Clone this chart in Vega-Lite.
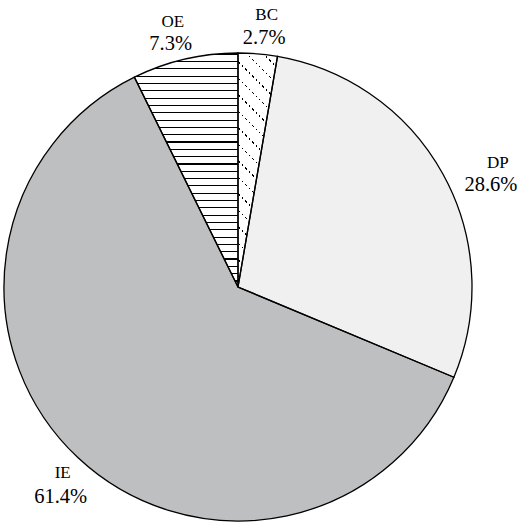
{
  "$schema": "https://vega.github.io/schema/vega-lite/v6.json",
  "autosize": "none",
  "width": 476,
  "height": 468,
  "padding": {"left": 0, "top": 53, "right": 47, "bottom": 10},
  "background": "#ffffff",
  "config": {"view": {"stroke": null}},
  "data": {"values": [
    {"name": "BC", "value": 0.027},
    {"name": "DP", "value": 0.286},
    {"name": "IE", "value": 0.614},
    {"name": "OE", "value": 0.073}
  ]},
  "encoding": {
    "theta": {"field": "value", "type": "quantitative", "stack": true},
    "order": {"field": "name", "type": "ordinal", "sort": "ascending"},
    "detail": {"field": "name", "type": "nominal"}
  },
  "layer": [
    {
      "mark": {"type": "arc", "radius": 234, "stroke": null},
      "encoding": {
        "fill": {
          "condition": [
            {"test": "datum.name === 'BC'", "value": {"gradient": "linear", "x1": 1, "y1": 0, "x2": 0.8082, "y2": 1.136, "stops": [
              {"offset": 0, "color": "#ffffff"},
              {"offset": 0.0520, "color": "#ffffff"}, {"offset": 0.0520, "color": "#000000"}, {"offset": 0.0575, "color": "#000000"}, {"offset": 0.0575, "color": "#ffffff"},
              {"offset": 0.1123, "color": "#ffffff"}, {"offset": 0.1123, "color": "#000000"}, {"offset": 0.1178, "color": "#000000"}, {"offset": 0.1178, "color": "#ffffff"},
              {"offset": 0.1726, "color": "#ffffff"}, {"offset": 0.1726, "color": "#000000"}, {"offset": 0.1781, "color": "#000000"}, {"offset": 0.1781, "color": "#ffffff"},
              {"offset": 0.2329, "color": "#ffffff"}, {"offset": 0.2329, "color": "#000000"}, {"offset": 0.2384, "color": "#000000"}, {"offset": 0.2384, "color": "#ffffff"},
              {"offset": 0.2932, "color": "#ffffff"}, {"offset": 0.2932, "color": "#000000"}, {"offset": 0.2987, "color": "#000000"}, {"offset": 0.2987, "color": "#ffffff"},
              {"offset": 0.3535, "color": "#ffffff"}, {"offset": 0.3535, "color": "#000000"}, {"offset": 0.3590, "color": "#000000"}, {"offset": 0.3590, "color": "#ffffff"},
              {"offset": 0.4138, "color": "#ffffff"}, {"offset": 0.4138, "color": "#000000"}, {"offset": 0.4193, "color": "#000000"}, {"offset": 0.4193, "color": "#ffffff"},
              {"offset": 0.4741, "color": "#ffffff"}, {"offset": 0.4741, "color": "#000000"}, {"offset": 0.4796, "color": "#000000"}, {"offset": 0.4796, "color": "#ffffff"},
              {"offset": 0.5344, "color": "#ffffff"}, {"offset": 0.5344, "color": "#000000"}, {"offset": 0.5399, "color": "#000000"}, {"offset": 0.5399, "color": "#ffffff"},
              {"offset": 0.5947, "color": "#ffffff"}, {"offset": 0.5947, "color": "#000000"}, {"offset": 0.6002, "color": "#000000"}, {"offset": 0.6002, "color": "#ffffff"},
              {"offset": 0.6550, "color": "#ffffff"}, {"offset": 0.6550, "color": "#000000"}, {"offset": 0.6605, "color": "#000000"}, {"offset": 0.6605, "color": "#ffffff"},
              {"offset": 0.7153, "color": "#ffffff"}, {"offset": 0.7153, "color": "#000000"}, {"offset": 0.7208, "color": "#000000"}, {"offset": 0.7208, "color": "#ffffff"},
              {"offset": 0.7756, "color": "#ffffff"}, {"offset": 0.7756, "color": "#000000"}, {"offset": 0.7811, "color": "#000000"}, {"offset": 0.7811, "color": "#ffffff"},
              {"offset": 0.8359, "color": "#ffffff"}, {"offset": 0.8359, "color": "#000000"}, {"offset": 0.8414, "color": "#000000"}, {"offset": 0.8414, "color": "#ffffff"},
              {"offset": 0.8962, "color": "#ffffff"}, {"offset": 0.8962, "color": "#000000"}, {"offset": 0.9017, "color": "#000000"}, {"offset": 0.9017, "color": "#ffffff"},
              {"offset": 0.9565, "color": "#ffffff"}, {"offset": 0.9565, "color": "#000000"}, {"offset": 0.9620, "color": "#000000"}, {"offset": 0.9620, "color": "#ffffff"},
              {"offset": 1, "color": "#ffffff"}
            ]}},
            {"test": "datum.name === 'OE'", "value": {"gradient": "linear", "x1": 0, "y1": 0, "x2": 0, "y2": 1, "stops": [
              {"offset": 0, "color": "#ffffff"},
              {"offset": 0.0031, "color": "#ffffff"}, {"offset": 0.0031, "color": "#000000"}, {"offset": 0.0079, "color": "#000000"}, {"offset": 0.0079, "color": "#ffffff"},
              {"offset": 0.0344, "color": "#ffffff"}, {"offset": 0.0344, "color": "#000000"}, {"offset": 0.0392, "color": "#000000"}, {"offset": 0.0392, "color": "#ffffff"},
              {"offset": 0.0656, "color": "#ffffff"}, {"offset": 0.0656, "color": "#000000"}, {"offset": 0.0704, "color": "#000000"}, {"offset": 0.0704, "color": "#ffffff"},
              {"offset": 0.0969, "color": "#ffffff"}, {"offset": 0.0969, "color": "#000000"}, {"offset": 0.1017, "color": "#000000"}, {"offset": 0.1017, "color": "#ffffff"},
              {"offset": 0.1281, "color": "#ffffff"}, {"offset": 0.1281, "color": "#000000"}, {"offset": 0.1329, "color": "#000000"}, {"offset": 0.1329, "color": "#ffffff"},
              {"offset": 0.1594, "color": "#ffffff"}, {"offset": 0.1594, "color": "#000000"}, {"offset": 0.1642, "color": "#000000"}, {"offset": 0.1642, "color": "#ffffff"},
              {"offset": 0.1906, "color": "#ffffff"}, {"offset": 0.1906, "color": "#000000"}, {"offset": 0.1954, "color": "#000000"}, {"offset": 0.1954, "color": "#ffffff"},
              {"offset": 0.2219, "color": "#ffffff"}, {"offset": 0.2219, "color": "#000000"}, {"offset": 0.2267, "color": "#000000"}, {"offset": 0.2267, "color": "#ffffff"},
              {"offset": 0.2531, "color": "#ffffff"}, {"offset": 0.2531, "color": "#000000"}, {"offset": 0.2579, "color": "#000000"}, {"offset": 0.2579, "color": "#ffffff"},
              {"offset": 0.2844, "color": "#ffffff"}, {"offset": 0.2844, "color": "#000000"}, {"offset": 0.2892, "color": "#000000"}, {"offset": 0.2892, "color": "#ffffff"},
              {"offset": 0.3156, "color": "#ffffff"}, {"offset": 0.3156, "color": "#000000"}, {"offset": 0.3204, "color": "#000000"}, {"offset": 0.3204, "color": "#ffffff"},
              {"offset": 0.3469, "color": "#ffffff"}, {"offset": 0.3469, "color": "#000000"}, {"offset": 0.3517, "color": "#000000"}, {"offset": 0.3517, "color": "#ffffff"},
              {"offset": 0.3781, "color": "#ffffff"}, {"offset": 0.3781, "color": "#000000"}, {"offset": 0.3829, "color": "#000000"}, {"offset": 0.3829, "color": "#ffffff"},
              {"offset": 0.4094, "color": "#ffffff"}, {"offset": 0.4094, "color": "#000000"}, {"offset": 0.4142, "color": "#000000"}, {"offset": 0.4142, "color": "#ffffff"},
              {"offset": 0.4406, "color": "#ffffff"}, {"offset": 0.4406, "color": "#000000"}, {"offset": 0.4454, "color": "#000000"}, {"offset": 0.4454, "color": "#ffffff"},
              {"offset": 0.4719, "color": "#ffffff"}, {"offset": 0.4719, "color": "#000000"}, {"offset": 0.4767, "color": "#000000"}, {"offset": 0.4767, "color": "#ffffff"},
              {"offset": 0.5031, "color": "#ffffff"}, {"offset": 0.5031, "color": "#000000"}, {"offset": 0.5079, "color": "#000000"}, {"offset": 0.5079, "color": "#ffffff"},
              {"offset": 0.5344, "color": "#ffffff"}, {"offset": 0.5344, "color": "#000000"}, {"offset": 0.5392, "color": "#000000"}, {"offset": 0.5392, "color": "#ffffff"},
              {"offset": 0.5656, "color": "#ffffff"}, {"offset": 0.5656, "color": "#000000"}, {"offset": 0.5704, "color": "#000000"}, {"offset": 0.5704, "color": "#ffffff"},
              {"offset": 0.5969, "color": "#ffffff"}, {"offset": 0.5969, "color": "#000000"}, {"offset": 0.6017, "color": "#000000"}, {"offset": 0.6017, "color": "#ffffff"},
              {"offset": 0.6281, "color": "#ffffff"}, {"offset": 0.6281, "color": "#000000"}, {"offset": 0.6329, "color": "#000000"}, {"offset": 0.6329, "color": "#ffffff"},
              {"offset": 0.6594, "color": "#ffffff"}, {"offset": 0.6594, "color": "#000000"}, {"offset": 0.6642, "color": "#000000"}, {"offset": 0.6642, "color": "#ffffff"},
              {"offset": 0.6906, "color": "#ffffff"}, {"offset": 0.6906, "color": "#000000"}, {"offset": 0.6954, "color": "#000000"}, {"offset": 0.6954, "color": "#ffffff"},
              {"offset": 0.7219, "color": "#ffffff"}, {"offset": 0.7219, "color": "#000000"}, {"offset": 0.7267, "color": "#000000"}, {"offset": 0.7267, "color": "#ffffff"},
              {"offset": 0.7531, "color": "#ffffff"}, {"offset": 0.7531, "color": "#000000"}, {"offset": 0.7579, "color": "#000000"}, {"offset": 0.7579, "color": "#ffffff"},
              {"offset": 0.7844, "color": "#ffffff"}, {"offset": 0.7844, "color": "#000000"}, {"offset": 0.7892, "color": "#000000"}, {"offset": 0.7892, "color": "#ffffff"},
              {"offset": 0.8156, "color": "#ffffff"}, {"offset": 0.8156, "color": "#000000"}, {"offset": 0.8204, "color": "#000000"}, {"offset": 0.8204, "color": "#ffffff"},
              {"offset": 0.8469, "color": "#ffffff"}, {"offset": 0.8469, "color": "#000000"}, {"offset": 0.8517, "color": "#000000"}, {"offset": 0.8517, "color": "#ffffff"},
              {"offset": 0.8781, "color": "#ffffff"}, {"offset": 0.8781, "color": "#000000"}, {"offset": 0.8829, "color": "#000000"}, {"offset": 0.8829, "color": "#ffffff"},
              {"offset": 0.9094, "color": "#ffffff"}, {"offset": 0.9094, "color": "#000000"}, {"offset": 0.9142, "color": "#000000"}, {"offset": 0.9142, "color": "#ffffff"},
              {"offset": 0.9406, "color": "#ffffff"}, {"offset": 0.9406, "color": "#000000"}, {"offset": 0.9454, "color": "#000000"}, {"offset": 0.9454, "color": "#ffffff"},
              {"offset": 0.9719, "color": "#ffffff"}, {"offset": 0.9719, "color": "#000000"}, {"offset": 0.9767, "color": "#000000"}, {"offset": 0.9767, "color": "#ffffff"},
              {"offset": 1, "color": "#ffffff"}
            ]}},
            {"test": "datum.name === 'DP'", "value": "#f0f0f0"}
          ],
          "value": "#bebfc1"
        }
      }
    },
    {
      "mark": {"type": "arc", "radius": 234, "stroke": "#000000", "strokeWidth": 1.3},
      "encoding": {
        "fill": {
          "condition": {"test": "datum.name === 'BC'", "value": {"gradient": "linear", "x1": 0, "y1": 0, "x2": 1, "y2": 0, "stops": [
            {"offset": 0, "color": "#ffffff"},
            {"offset": 0.0126, "color": "#ffffff"}, {"offset": 0.0126, "color": "rgba(255,255,255,0)"}, {"offset": 0.0480, "color": "rgba(255,255,255,0)"}, {"offset": 0.0480, "color": "#ffffff"},
            {"offset": 0.0987, "color": "#ffffff"}, {"offset": 0.0987, "color": "rgba(255,255,255,0)"}, {"offset": 0.1341, "color": "rgba(255,255,255,0)"}, {"offset": 0.1341, "color": "#ffffff"},
            {"offset": 0.1848, "color": "#ffffff"}, {"offset": 0.1848, "color": "rgba(255,255,255,0)"}, {"offset": 0.2202, "color": "rgba(255,255,255,0)"}, {"offset": 0.2202, "color": "#ffffff"},
            {"offset": 0.2709, "color": "#ffffff"}, {"offset": 0.2709, "color": "rgba(255,255,255,0)"}, {"offset": 0.3063, "color": "rgba(255,255,255,0)"}, {"offset": 0.3063, "color": "#ffffff"},
            {"offset": 0.3570, "color": "#ffffff"}, {"offset": 0.3570, "color": "rgba(255,255,255,0)"}, {"offset": 0.3924, "color": "rgba(255,255,255,0)"}, {"offset": 0.3924, "color": "#ffffff"},
            {"offset": 0.4431, "color": "#ffffff"}, {"offset": 0.4431, "color": "rgba(255,255,255,0)"}, {"offset": 0.4785, "color": "rgba(255,255,255,0)"}, {"offset": 0.4785, "color": "#ffffff"},
            {"offset": 0.5292, "color": "#ffffff"}, {"offset": 0.5292, "color": "rgba(255,255,255,0)"}, {"offset": 0.5646, "color": "rgba(255,255,255,0)"}, {"offset": 0.5646, "color": "#ffffff"},
            {"offset": 0.6153, "color": "#ffffff"}, {"offset": 0.6153, "color": "rgba(255,255,255,0)"}, {"offset": 0.6507, "color": "rgba(255,255,255,0)"}, {"offset": 0.6507, "color": "#ffffff"},
            {"offset": 0.7014, "color": "#ffffff"}, {"offset": 0.7014, "color": "rgba(255,255,255,0)"}, {"offset": 0.7368, "color": "rgba(255,255,255,0)"}, {"offset": 0.7368, "color": "#ffffff"},
            {"offset": 0.7875, "color": "#ffffff"}, {"offset": 0.7875, "color": "rgba(255,255,255,0)"}, {"offset": 0.8229, "color": "rgba(255,255,255,0)"}, {"offset": 0.8229, "color": "#ffffff"},
            {"offset": 0.8736, "color": "#ffffff"}, {"offset": 0.8736, "color": "rgba(255,255,255,0)"}, {"offset": 0.9090, "color": "rgba(255,255,255,0)"}, {"offset": 0.9090, "color": "#ffffff"},
            {"offset": 0.9597, "color": "#ffffff"}, {"offset": 0.9597, "color": "rgba(255,255,255,0)"}, {"offset": 0.9951, "color": "rgba(255,255,255,0)"}, {"offset": 0.9951, "color": "#ffffff"},
            {"offset": 1, "color": "#ffffff"}
          ]}},
          "value": "transparent"
        }
      }
    },
    {
      "mark": {"type": "text", "radius": 256, "dx": 7, "dy": -12, "font": "Liberation Serif", "fontSize": 17, "align": "center", "baseline": "alphabetic", "color": "#000000"},
      "encoding": {"text": {"condition": {"test": "datum.name === 'BC'", "field": "name", "type": "nominal"}, "value": ""}}
    },
    {
      "mark": {"type": "text", "radius": 256, "dx": 4.5, "dy": 12.5, "font": "Liberation Serif", "fontSize": 20.5, "align": "center", "baseline": "alphabetic", "color": "#000000"},
      "encoding": {"text": {"condition": {"test": "datum.name === 'BC'", "field": "value", "type": "quantitative", "format": ".1%"}, "value": ""}}
    },
    {
      "mark": {"type": "text", "radius": 276, "dx": 18, "dy": 13.5, "font": "Liberation Serif", "fontSize": 17, "align": "center", "baseline": "alphabetic", "color": "#000000"},
      "encoding": {"text": {"condition": {"test": "datum.name === 'DP'", "field": "name", "type": "nominal"}, "value": ""}}
    },
    {
      "mark": {"type": "text", "radius": 276, "dx": 11, "dy": 36.5, "font": "Liberation Serif", "fontSize": 20.5, "align": "center", "baseline": "alphabetic", "color": "#000000"},
      "encoding": {"text": {"condition": {"test": "datum.name === 'DP'", "field": "value", "type": "quantitative", "format": ".1%"}, "value": ""}}
    },
    {
      "mark": {"type": "text", "radius": 269, "dx": 8.8, "dy": -5.5, "font": "Liberation Serif", "fontSize": 17, "align": "center", "baseline": "alphabetic", "color": "#000000"},
      "encoding": {"text": {"condition": {"test": "datum.name === 'IE'", "field": "name", "type": "nominal"}, "value": ""}}
    },
    {
      "mark": {"type": "text", "radius": 269, "dx": 6.8, "dy": 20, "font": "Liberation Serif", "fontSize": 20.5, "align": "center", "baseline": "alphabetic", "color": "#000000"},
      "encoding": {"text": {"condition": {"test": "datum.name === 'IE'", "field": "value", "type": "quantitative", "format": ".1%"}, "value": ""}}
    },
    {
      "mark": {"type": "text", "radius": 256.6, "dx": -6.9, "dy": -10, "font": "Liberation Serif", "fontSize": 17, "align": "center", "baseline": "alphabetic", "color": "#000000"},
      "encoding": {"text": {"condition": {"test": "datum.name === 'OE'", "field": "name", "type": "nominal"}, "value": ""}}
    },
    {
      "mark": {"type": "text", "radius": 256.6, "dx": -9, "dy": 13, "font": "Liberation Serif", "fontSize": 20.5, "align": "center", "baseline": "alphabetic", "color": "#000000"},
      "encoding": {"text": {"condition": {"test": "datum.name === 'OE'", "field": "value", "type": "quantitative", "format": ".1%"}, "value": ""}}
    }
  ]
}
